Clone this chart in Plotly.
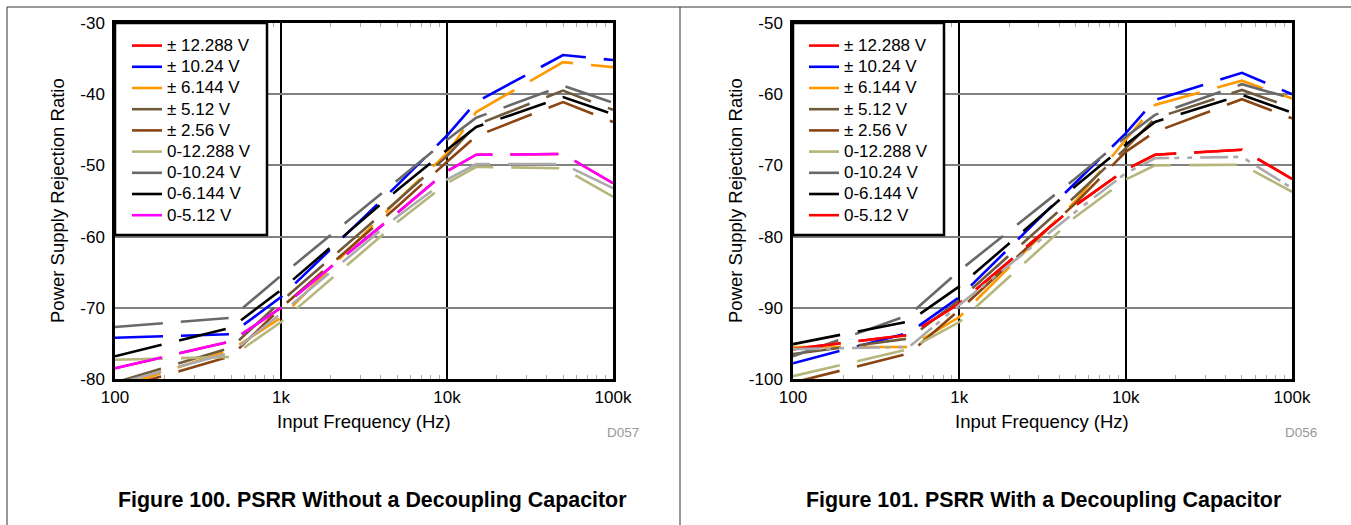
import plotly.graph_objects as go

# ---------------- data ----------------
freq = [100, 500, 1000, 5000, 10000, 15000, 50000, 100000]

names = ["± 12.288 V", "± 10.24 V", "± 6.144 V", "± 5.12 V", "± 2.56 V",
         "0-12.288 V", "0-10.24 V", "0-6.144 V", "0-5.12 V"]

# Figure 100 - without decoupling capacitor (dB)
l_pm12288 = [-78.5, -74.7, -70.0, -56.7, -50.8, -48.5, -48.4, -52.5]
l_pm1024 = [-74.2, -73.7, -68.5, -52.8, -45.8, -41.1, -34.5, -35.2]
l_pm6144 = [-81.3, -75.9, -71.4, -55.0, -48.3, -42.5, -35.5, -36.2]
l_pm512 = [-80.5, -75.6, -69.1, -55.0, -48.7, -44.3, -39.5, -42.2]
l_pm256 = [-81.5, -76.8, -70.0, -55.8, -49.5, -45.9, -41.1, -43.9]
l_u12288 = [-77.3, -76.9, -72.0, -58.0, -52.5, -50.2, -50.4, -54.4]
l_u1024 = [-72.7, -71.4, -65.5, -52.1, -46.4, -43.3, -38.8, -41.2]
l_u6144 = [-76.8, -72.8, -67.5, -53.5, -47.8, -44.6, -40.4, -42.8]
l_u512 = [-78.5, -74.7, -70.0, -56.7, -50.8, -48.5, -48.4, -52.5]
l_extra = [-80.7, -76.3, -70.8, -57.2, -52.0, -49.8, -49.8, -53.2]

# Figure 101 - with decoupling capacitor (dB)
r_pm12288 = [-95.8, -93.8, -89.4, -75.6, -70.6, -68.5, -67.8, -71.9]
r_pm1024 = [-97.8, -93.5, -88.5, -72.4, -65.5, -60.8, -57.0, -60.0]
r_pm6144 = [-95.5, -95.5, -91.3, -75.0, -66.4, -61.5, -58.1, -60.6]
r_pm512 = [-96.5, -94.3, -88.9, -74.3, -67.6, -63.4, -59.4, -61.9]
r_pm256 = [-100.5, -96.4, -90.3, -75.3, -68.1, -65.3, -60.7, -63.4]
r_u12288 = [-99.6, -95.8, -92.0, -77.2, -72.0, -70.0, -69.9, -73.7]
r_u1024 = [-96.8, -91.0, -84.8, -71.8, -66.0, -62.9, -58.6, -60.6]
r_u6144 = [-95.1, -91.9, -87.0, -72.9, -67.1, -63.9, -60.1, -62.6]
r_u512 = [-95.8, -93.8, -89.4, -75.6, -70.6, -68.5, -67.8, -71.9]
r_extra = [-95.8, -95.5, -89.6, -76.5, -71.1, -69.0, -68.8, -73.2]

x_tickvals = [100, 1000, 10000, 100000]
x_ticktext = ["100", "1k", "10k", "100k"]
x_minorvals = [200, 300, 400, 500, 600, 700, 800, 900,
               2000, 3000, 4000, 5000, 6000, 7000, 8000, 9000,
               20000, 30000, 40000, 50000, 60000, 70000, 80000, 90000]
yl_tickvals = [-80, -70, -60, -50, -40, -30]
yl_ticktext = ["-80", "-70", "-60", "-50", "-40", "-30"]
yr_tickvals = [-100, -90, -80, -70, -60, -50]
yr_ticktext = ["-100", "-90", "-80", "-70", "-60", "-50"]

left_colors = ["#FF0000", "#0000FF", "#FF9900", "#705A3C", "#8B4513",
               "#B5B57C", "#696969", "#000000", "#FF00FF"]
right_colors = ["#FF0000", "#0000FF", "#FF9900", "#705A3C", "#8B4513",
                "#B5B57C", "#696969", "#000000", "#FF0000"]

left_data = [l_pm12288, l_pm1024, l_pm6144, l_pm512, l_pm256,
             l_u12288, l_u1024, l_u6144, l_u512]
right_data = [r_pm12288, r_pm1024, r_pm6144, r_pm512, r_pm256,
              r_u12288, r_u1024, r_u6144, r_u512]

# ---------------- figure ----------------
W, H = 1351, 525
FONT = "Arial, Liberation Sans, sans-serif"
DASH = "48px,18px"
LW = 2.6


def px(x):
    return x / W


def py(y):
    return 1 - y / H


fig = go.Figure()

for nm, vals, col in zip(names, left_data, left_colors):
    fig.add_trace(go.Scatter(
        x=freq, y=vals, mode="lines", xaxis="x", yaxis="y", legend="legend",
        name='<span style="font-size:17px">' + nm + "</span>",
        line=dict(color=col, width=LW, dash=DASH), hoverinfo="x+y"))
fig.add_trace(go.Scatter(
    x=freq, y=l_extra, mode="lines", xaxis="x", yaxis="y", showlegend=False,
    line=dict(color="#AAAAAA", width=LW, dash=DASH)))

for nm, vals, col in zip(names, right_data, right_colors):
    fig.add_trace(go.Scatter(
        x=freq, y=vals, mode="lines", xaxis="x2", yaxis="y2", legend="legend2",
        name='<span style="font-size:17px">' + nm + "</span>",
        line=dict(color=col, width=LW, dash=DASH), hoverinfo="x+y"))
fig.add_trace(go.Scatter(
    x=freq, y=r_extra, mode="lines", xaxis="x2", yaxis="y2", showlegend=False,
    line=dict(color="#AAAAAA", width=LW, dash="28px,5px,5px,8px,5px,8px")))

xdom_l = [px(115), px(613)]
xdom_r = [px(793), px(1292)]
ydom = [py(379), py(23)]

xcommon = dict(type="log", range=[2, 5], tickvals=x_tickvals, ticktext=x_ticktext,
               automargin=False,
               showgrid=True, gridcolor="#000000", gridwidth=2,
               showline=True, linecolor="#000000", linewidth=2.5, mirror="allticks",
               ticks="", zeroline=False, ticklabelstandoff=1,
               tickfont=dict(family=FONT, size=17, color="#000000"),
               minor=dict(tickvals=x_minorvals, ticks="inside", ticklen=4,
                          tickcolor="#AAAAAA", tickwidth=1, showgrid=False))
ycommon = dict(showgrid=True, gridcolor="#808080", gridwidth=1.5, automargin=False,
               showline=True, linecolor="#000000", linewidth=2.5, mirror=True,
               ticks="", zeroline=False, ticklabelstandoff=4,
               tickfont=dict(family=FONT, size=17, color="#000000"))

fig.update_layout(
    template="none",
    width=W, height=H, margin=dict(l=0, r=0, t=0, b=0, autoexpand=False),
    paper_bgcolor="white", plot_bgcolor="white",
    font=dict(family=FONT, color="#000000"),
    xaxis=dict(domain=xdom_l, anchor="y", **xcommon),
    yaxis=dict(domain=ydom, anchor="x", range=[-80, -30],
               tickvals=yl_tickvals, ticktext=yl_ticktext, **ycommon),
    xaxis2=dict(domain=xdom_r, anchor="y2", **xcommon),
    yaxis2=dict(domain=ydom, anchor="x2", range=[-100, -50],
                tickvals=yr_tickvals, ticktext=yr_ticktext, **ycommon),
    legend=dict(x=px(127), y=py(30), xanchor="left", yanchor="top",
                bgcolor="rgba(0,0,0,0)", borderwidth=0,
                font=dict(family=FONT, size=14, color="#000000")),
    legend2=dict(x=px(804), y=py(30), xanchor="left", yanchor="top",
                 bgcolor="rgba(0,0,0,0)", borderwidth=0,
                 font=dict(family=FONT, size=14, color="#000000")),
)

shapes = [
    # legend boxes
    dict(type="rect", xref="paper", yref="paper", x0=px(115), x1=px(267),
         y0=py(235), y1=py(23), line=dict(color="#000000", width=2.5),
         fillcolor="white", layer="above"),
    dict(type="rect", xref="paper", yref="paper", x0=px(793), x1=px(944),
         y0=py(235), y1=py(23), line=dict(color="#000000", width=2.5),
         fillcolor="white", layer="above"),
    # page frame
    dict(type="line", xref="paper", yref="paper", x0=px(7), x1=1, y0=py(7), y1=py(7),
         line=dict(color="#333333", width=1)),
    dict(type="line", xref="paper", yref="paper", x0=px(7), x1=px(7), y0=0, y1=py(7),
         line=dict(color="#333333", width=1)),
    dict(type="line", xref="paper", yref="paper", x0=px(680), x1=px(680), y0=0, y1=py(7),
         line=dict(color="#333333", width=1)),
]

annotations = []
for xc, fig_title, code, xr, xt in [
    (364, "Figure 100. PSRR Without a Decoupling Capacitor", "D057", 641, 372),
    (1042, "Figure 101. PSRR With a Decoupling Capacitor", "D056", 1319, 1043),
]:
    annotations.append(dict(text="Input Frequency (Hz)", xref="paper", yref="paper",
                            x=px(xc), y=py(421), showarrow=False,
                            font=dict(family=FONT, size=18.5, color="#000000"),
                            xanchor="center", yanchor="middle"))
    annotations.append(dict(text=code, xref="paper", yref="paper",
                            x=px(xr), y=py(432), showarrow=False,
                            font=dict(family=FONT, size=13.5, color="#999999"),
                            xanchor="right", yanchor="middle"))
    annotations.append(dict(text="<b>" + fig_title + "</b>", xref="paper", yref="paper",
                            x=px(xt), y=py(500), showarrow=False,
                            font=dict(family=FONT, size=21.4, color="#000000"),
                            xanchor="center", yanchor="middle"))
for xc in [58, 736]:
    annotations.append(dict(text="Power Supply Rejection Ratio", xref="paper", yref="paper",
                            x=px(xc), y=py(201), showarrow=False, textangle=-90,
                            font=dict(family=FONT, size=18.5, color="#000000"),
                            xanchor="center", yanchor="middle"))

fig.update_layout(shapes=shapes, annotations=annotations)
fig.write_html("out.html",
               config={"displayModeBar": False},
               post_script="document.body.style.margin='0px';"
                           "document.body.style.overflow='hidden';")
